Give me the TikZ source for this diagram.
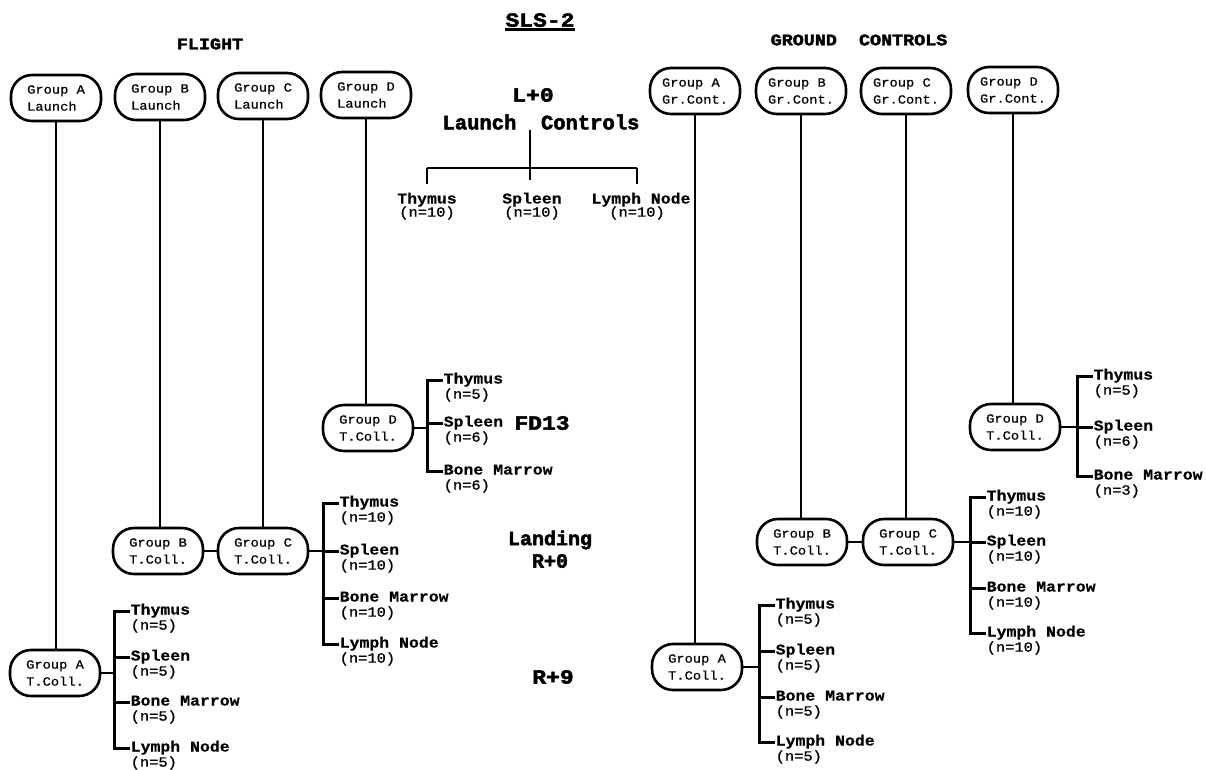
\documentclass[tikz,border=0pt]{standalone}
\usepackage{fontspec}
\newfontfamily\boxfont{Liberation Mono}[FakeStretch=1.1, FakeBold=0.8]
\newfontfamily\namefont{Liberation Mono}[FakeStretch=1.1, BoldFeatures={FakeBold=0.4}]
\newfontfamily\nfont{Liberation Mono}[FakeStretch=1.1, FakeBold=1]
\newfontfamily\ttlfont{Liberation Mono}[BoldFeatures={FakeBold=2.5}]
\newfontfamily\ttlwide{Liberation Mono}[FakeStretch=1.15, BoldFeatures={FakeBold=2.5}]
\newcommand\leaf[5]{%
  \node[leafname] (#1) at (#2,#3) {#4};
  \node[leafn] (#1n) at ([yshift=-15pt]#1.west) {#5};}
\begin{document}
\begin{tikzpicture}[x=1pt,y=-1pt,
  grp/.style={draw, line width=2.6pt, rounded corners=21pt, minimum width=90pt,
    minimum height=46pt, inner sep=0pt, align=left,
    font=\boxfont\fontsize{12.5}{17}\selectfont},
  vline/.style={line width=2.3pt},
  brk/.style={line width=3pt},
  leafname/.style={anchor=west, inner sep=0.5pt, text height=10pt, text depth=3pt,
    font=\namefont\bfseries\fontsize{15}{15}\selectfont},
  leafn/.style={anchor=west, inner sep=0.5pt,
    font=\nfont\fontsize{14}{14}\selectfont},
  ttl/.style={inner sep=0pt, font=\ttlfont\bfseries\fontsize{20}{20}\selectfont},
  ttlw/.style={inner sep=0pt, font=\ttlwide\bfseries\fontsize{20}{20}\selectfont},
  head/.style={inner sep=0pt, font=\ttlwide\bfseries\fontsize{16}{16}\selectfont}]
\useasboundingbox (0,0) rectangle (1206,769);

% ---------- titles ----------
\node[ttlw, text depth=0pt] (sls) at (540,20) {SLS-2};
\draw[line width=2.4pt] ([yshift=-2.5pt]sls.south west) -- ([yshift=-2.5pt]sls.south east);
\node[head] (flight) at (210,44) {FLIGHT};
\node[head] (ground) at (859,40) {GROUND\ \ CONTROLS};

% ---------- flight launch boxes ----------
\node[grp] (fAl) at (56,98) {Group A\\Launch};
\node[grp] (fBl) at (160,97) {Group B\\Launch};
\node[grp] (fCl) at (263,96) {Group C\\Launch};
\node[grp] (fDl) at (366,95) {Group D\\Launch};

% ---------- ground control boxes ----------
\node[grp] (gAl) at (695,91) {Group A\\Gr.Cont.};
\node[grp] (gBl) at (801,91) {Group B\\Gr.Cont.};
\node[grp] (gCl) at (906,91) {Group C\\Gr.Cont.};
\node[grp] (gDl) at (1013,90) {Group D\\Gr.Cont.};

% ---------- launch controls ----------
\node[ttlw] (l0) at (533,95) {L+0};
\node[ttl, font=\ttlfont\bfseries\fontsize{20.5}{20}\selectfont] (lc) at (541,122) {Launch\ \ Controls};
\coordinate (lcm) at (530,180);
\coordinate (lcbl) at (427,168);
\coordinate (lcbr) at (637,168);
\node[leafname, anchor=center] (lcT) at (427,200) {Thymus};
\node[leafn, anchor=center] (lcTn) at (427,213) {(n=10)};
\node[leafname, anchor=center] (lcS) at (532,200) {Spleen};
\node[leafn, anchor=center] (lcSn) at (532,213) {(n=10)};
\node[leafname, anchor=center] (lcL) at (641,200) {Lymph Node};
\node[leafn, anchor=center] (lcLn) at (637,213) {(n=10)};
\draw[vline] (lc.south -| lcm) -- (lcm);
\draw[vline] (lcbl) -- (lcbr);
\draw[vline, shorten >=9pt] (lcbl) -- (lcT.north);
\draw[vline, shorten >=9pt] (lcbr) -- (lcbr |- lcL.north);

% ---------- phase labels ----------
\node[ttlw] (fd13) at (542,423) {FD13};
\node[ttl] (land) at (550,540) {Landing};
\node[ttl] (r0) at (550,561) {R+0};
\node[ttlw] (r9) at (553,677) {R+9};

% ---------- flight group D ----------
\node[grp] (fDt) at (368,428) {Group D\\T.Coll.};
\leaf{fD1}{443}{380}{Thymus}{(n=5)}
\leaf{fD2}{443}{423}{Spleen}{(n=6)}
\leaf{fD3}{443}{471}{Bone Marrow}{(n=6)}
\coordinate (fDb) at ([xshift=-16pt]fD1.west);
\draw[brk] (fD1.west) -- (fDb) |- (fD3.west);
\draw[brk] (fD2.west) -- (fD2.west -| fDb);
\draw[vline] (fDt.east) -- (fDt.east -| fDb);
\draw[vline] (fDl.south) -- (fDl.south |- fDt.north);

% ---------- flight groups B, C ----------
\node[grp] (fBt) at (158,551) {Group B\\T.Coll.};
\node[grp] (fCt) at (263,551) {Group C\\T.Coll.};
\leaf{fC1}{339}{503}{Thymus}{(n=10)}
\leaf{fC2}{339}{551}{Spleen}{(n=10)}
\leaf{fC3}{339}{598}{Bone Marrow}{(n=10)}
\leaf{fC4}{339}{644}{Lymph Node}{(n=10)}
\coordinate (fCb) at ([xshift=-16pt]fC1.west);
\draw[brk] (fC1.west) -- (fCb) |- (fC4.west);
\draw[brk] (fC2.west) -- (fC2.west -| fCb);
\draw[brk] (fC3.west) -- (fC3.west -| fCb);
\draw[vline] (fCt.east) -- (fCt.east -| fCb);
\draw[vline] (fBt.east) -- (fCt.west);
\draw[vline] (fBl.south) -- (fBl.south |- fBt.north);
\draw[vline] (fCl.south) -- (fCl.south |- fCt.north);

% ---------- flight group A ----------
\node[grp] (fAt) at (55,673) {Group A\\T.Coll.};
\leaf{fA1}{130}{611}{Thymus}{(n=5)}
\leaf{fA2}{130}{657}{Spleen}{(n=5)}
\leaf{fA3}{130}{702}{Bone Marrow}{(n=5)}
\leaf{fA4}{130}{748}{Lymph Node}{(n=5)}
\coordinate (fAb) at ([xshift=-16pt]fA1.west);
\draw[brk] (fA1.west) -- (fAb) |- (fA4.west);
\draw[brk] (fA2.west) -- (fA2.west -| fAb);
\draw[brk] (fA3.west) -- (fA3.west -| fAb);
\draw[vline] (fAt.east) -- (fAt.east -| fAb);
\draw[vline] (fAl.south) -- (fAl.south |- fAt.north);

% ---------- ground group D ----------
\node[grp] (gDt) at (1015,427) {Group D\\T.Coll.};
\leaf{gD1}{1093}{376}{Thymus}{(n=5)}
\leaf{gD2}{1093}{427}{Spleen}{(n=6)}
\leaf{gD3}{1093}{476}{Bone Marrow}{(n=3)}
\coordinate (gDb) at ([xshift=-16pt]gD1.west);
\draw[brk] (gD1.west) -- (gDb) |- (gD3.west);
\draw[brk] (gD2.west) -- (gD2.west -| gDb);
\draw[vline] (gDt.east) -- (gDt.east -| gDb);
\draw[vline] (gDl.south) -- (gDl.south |- gDt.north);

% ---------- ground groups B, C ----------
\node[grp] (gBt) at (802,542) {Group B\\T.Coll.};
\node[grp] (gCt) at (908,542) {Group C\\T.Coll.};
\leaf{gC1}{986}{497}{Thymus}{(n=10)}
\leaf{gC2}{986}{542}{Spleen}{(n=10)}
\leaf{gC3}{986}{588}{Bone Marrow}{(n=10)}
\leaf{gC4}{986}{633}{Lymph Node}{(n=10)}
\coordinate (gCb) at ([xshift=-16pt]gC1.west);
\draw[brk] (gC1.west) -- (gCb) |- (gC4.west);
\draw[brk] (gC2.west) -- (gC2.west -| gCb);
\draw[brk] (gC3.west) -- (gC3.west -| gCb);
\draw[vline] (gCt.east) -- (gCt.east -| gCb);
\draw[vline] (gBt.east) -- (gCt.west);
\draw[vline] (gBl.south) -- (gBl.south |- gBt.north);
\draw[vline] (gCl.south) -- (gCl.south |- gCt.north);

% ---------- ground group A ----------
\node[grp] (gAt) at (697,667) {Group A\\T.Coll.};
\leaf{gA1}{775}{605}{Thymus}{(n=5)}
\leaf{gA2}{775}{651}{Spleen}{(n=5)}
\leaf{gA3}{775}{697}{Bone Marrow}{(n=5)}
\leaf{gA4}{775}{742}{Lymph Node}{(n=5)}
\coordinate (gAb) at ([xshift=-16pt]gA1.west);
\draw[brk] (gA1.west) -- (gAb) |- (gA4.west);
\draw[brk] (gA2.west) -- (gA2.west -| gAb);
\draw[brk] (gA3.west) -- (gA3.west -| gAb);
\draw[vline] (gAt.east) -- (gAt.east -| gAb);
\draw[vline] (gAl.south) -- (gAl.south |- gAt.north);
\end{tikzpicture}
\end{document}
